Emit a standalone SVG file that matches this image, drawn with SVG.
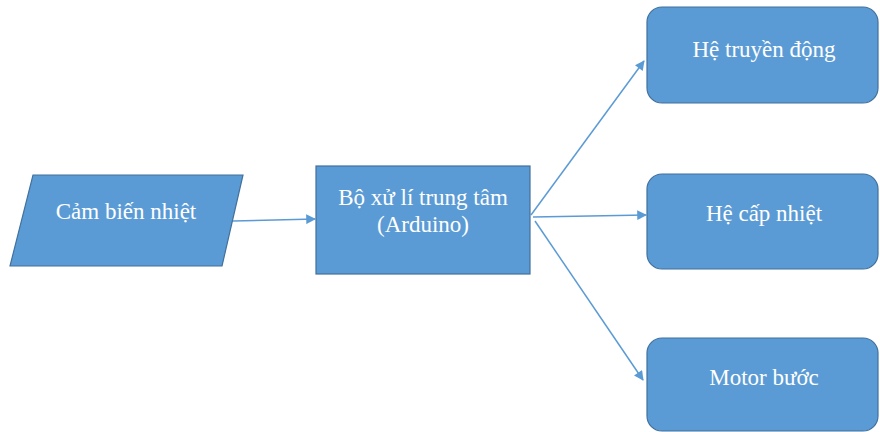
<svg xmlns="http://www.w3.org/2000/svg" width="880" height="432" viewBox="0 0 880 432">
<defs>
<style>
.node{fill:#5B9BD5;stroke:#41719C;stroke-width:1.2}
.lbl{font-family:"Liberation Serif","Times New Roman",serif;font-size:23px;fill:#FFFFFF;text-anchor:middle}
.conn{stroke:#5B9BD5;stroke-width:1.5;fill:none;marker-end:url(#arr)}
</style>
<marker id="arr" viewBox="0 0 10 10" refX="9" refY="5" markerWidth="7" markerHeight="6.5" orient="auto" markerUnits="strokeWidth">
<path d="M0,0 L10,5 L0,10 z" fill="#5B9BD5"/>
</marker>
</defs>
<rect width="880" height="432" fill="#FFFFFF"/>
<g id="connectors">
<line class="conn" x1="233" y1="221" x2="315" y2="219"/>
<line class="conn" x1="531" y1="215" x2="644" y2="61"/>
<line class="conn" x1="533" y1="217" x2="646" y2="215"/>
<line class="conn" x1="535" y1="221" x2="643" y2="380"/>
</g>
<g id="cam-bien-nhiet">
<polygon class="node" points="33,175 243,175 222,266 10,266"/>
<text class="lbl" x="126" y="219">Cảm biến nhiệt</text>
</g>
<g id="bo-xu-li">
<rect class="node" x="316" y="166" width="214" height="108"/>
<text class="lbl" x="423" y="205">Bộ xử lí trung tâm</text>
<text class="lbl" x="423" y="232">(Arduino)</text>
</g>
<g id="he-truyen-dong">
<rect class="node" x="647" y="7" width="231" height="96" rx="15"/>
<text class="lbl" x="764" y="57">Hệ truyền động</text>
</g>
<g id="he-cap-nhiet">
<rect class="node" x="647" y="174" width="231" height="95" rx="15"/>
<text class="lbl" x="764" y="221">Hệ cấp nhiệt</text>
</g>
<g id="motor-buoc">
<rect class="node" x="647" y="338" width="231" height="93" rx="15"/>
<text class="lbl" x="764" y="385">Motor bước</text>
</g>
</svg>
